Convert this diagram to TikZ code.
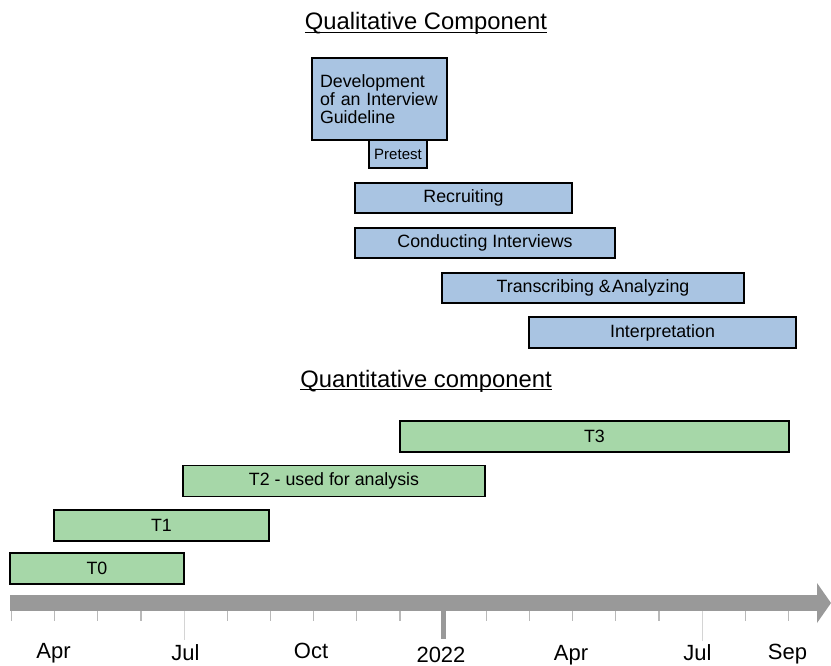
\documentclass[tikz,border=0pt]{standalone}
\usepackage{fontspec}
\setmainfont{Liberation Sans}
\definecolor{qualblue}{RGB}{169,196,226}
\definecolor{quantgreen}{RGB}{166,215,168}
\definecolor{axisgray}{RGB}{153,153,153}
\definecolor{tickgray}{RGB}{185,185,185}
\definecolor{julgray}{RGB}{212,212,212}
\tikzset{
  phase/.style={draw=black, line width=1.5pt, fill=qualblue, inner sep=0pt,
    minimum height=30pt, font=\fontsize{17.8}{18}\selectfont},
  wave/.style={phase, fill=quantgreen, minimum height=31pt},
  heading/.style={inner sep=0pt, anchor=base, font=\fontsize{23.8}{26}\selectfont},
  month/.style={inner sep=0pt, anchor=base, font=\fontsize{22}{24}\selectfont},
}
\begin{document}
\begin{tikzpicture}[x=1pt,y=-1pt]
        \useasboundingbox (0,0) rectangle (831,666);

        % qualitative part
        \node[heading] (qualtitle) at (426,30) {Qualitative Component};
        \draw[line width=1.2pt] ([yshift=-2.5pt]qualtitle.base west) -- ([yshift=-2.5pt]qualtitle.base east);

        \node[phase, minimum width=58pt, minimum height=28pt, font=\fontsize{15}{16}\selectfont] (pretest) at (398,154) {Pretest};
        \node[phase, minimum width=135pt, minimum height=82pt, text width=119pt, align=left] (guide) at (379.5,99) {Development\\of an Interview\\Guideline};
        \node[phase, minimum width=217pt] (recruit) at (463.5,198) {Recruiting};
        \node[phase, minimum width=260pt] (interviews) at (485,243) {Conducting Interviews};
        \node[phase, minimum width=302pt] (analyze) at (593,288) {Transcribing \&\hspace{0.08em}Analyzing};
        \node[phase, minimum width=267pt, minimum height=31pt] (interpret) at (662.5,332.5) {Interpretation};

        % quantitative part
        \node[heading] (quanttitle) at (426,387) {Quantitative component};
        \draw[line width=1.2pt] ([yshift=-2.5pt]quanttitle.base west) -- ([yshift=-2.5pt]quanttitle.base east);

        \node[wave, minimum width=389pt] (tthree) at (594.5,436.5) {T3};
        \node[wave, minimum width=302pt] (ttwo) at (334,481) {T2 - used for analysis};
        \node[wave, minimum width=215pt] (tone) at (161.5,525.5) {T1};
        \node[wave, minimum width=174pt] (tzero) at (97,568.5) {T0};

        % time axis
        \fill[axisgray] (10,595) rectangle (818,611);
        \fill[axisgray] (817,583) -- (831,603) -- (817,623) -- cycle;
        \foreach \m in {0,1,2,3,5,6,7,8,9,11,12,13,14,15,17,18}
          \draw[tickgray, line width=1.3pt] (11.5+43.16*\m,611) -- ++(0,10);
        \draw[julgray, line width=1.2pt] (184.1,611) -- (184.1,640);
        \draw[julgray, line width=1.2pt] (702.1,611) -- (702.1,641);
        \draw[axisgray, line width=5pt] (443.1,611) -- (443.1,639);

        \node[month] (aprone) at (53.5,658) {Apr};
        \node[month] (julone) at (185.5,660) {Jul};
        \node[month] (octone) at (311,658) {Oct};
        \node[month] (newyear) at (441,662) {2022};
        \node[month] (aprtwo) at (571,660) {Apr};
        \node[month] (jultwo) at (697.5,660) {Jul};
        \node[month] (septwo) at (787.5,659) {Sep};

\end{tikzpicture}
\end{document}
